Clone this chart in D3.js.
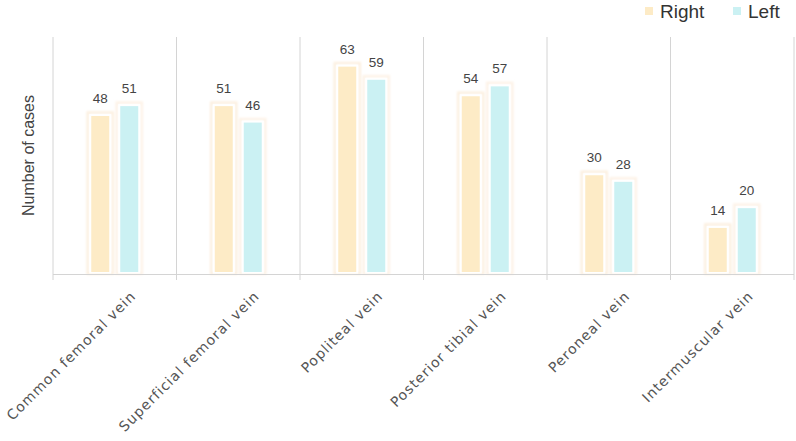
<!DOCTYPE html>
<html><head><meta charset="utf-8">
<script src="https://cdn.jsdelivr.net/npm/d3@7"></script>
<style>body{margin:0;background:#fff}svg{display:block}</style>
</head><body>
<script>
const categories = ["Common femoral vein","Superficial femoral vein","Popliteal vein","Posterior tibial vein","Peroneal vein","Intermuscular vein"];
const seriesNames = ["Right","Left"];
const rightValues = [48,51,63,54,30,14];
const leftValues = [51,46,59,57,28,20];
const yTicks = [0,72];

const W=796,H=441;
const svg=d3.select("body").append("svg").attr("width",W).attr("height",H);
const m={l:53,r:2,t:37,b:167};
const x=d3.scaleBand().domain(categories).range([m.l,W-m.r]).padding(0);
const y=d3.scaleLinear().domain(d3.extent(yTicks)).range([H-m.b,m.t]);
const colors={Right:"#fdebc6",Left:"#cbf1f3"};
const halo={Right:"#fcefdf",Left:"#fdf2e6"};

const defs=svg.append("defs");
defs.append("filter").attr("id","glow").attr("x","-50%").attr("y","-20%").attr("width","200%").attr("height","140%")
  .append("feGaussianBlur").attr("stdDeviation",1.2);

// vertical separators
svg.append("g").selectAll("line").data(d3.range(categories.length+1)).join("line")
  .attr("x1",i=>m.l+i*x.bandwidth()).attr("x2",i=>m.l+i*x.bandwidth())
  .attr("y1",m.t).attr("y2",y(0)+6).attr("stroke","#d4d4d4").attr("stroke-width",1);

const data=categories.map((c,i)=>({c,vals:[{s:"Right",v:rightValues[i]},{s:"Left",v:leftValues[i]}]}));
const bw=18, off=14.5;
const g=svg.append("g");
data.forEach(d=>{
  const cx=x(d.c)+x.bandwidth()/2;
  d.vals.forEach((e,j)=>{
    const bx=cx+(j===0?-off:off)-bw/2;
    g.append("rect").attr("x",bx-3.5).attr("y",y(e.v)-3.5).attr("width",bw+7).attr("height",y(0)-y(e.v)+3)
      .attr("fill","none").attr("stroke",halo[e.s]).attr("stroke-width",2.5).attr("filter","url(#glow)");
    g.append("rect").attr("x",bx-2).attr("y",y(e.v)-2).attr("width",bw+4).attr("height",y(0)-y(e.v)+1.5)
      .attr("fill","#fff");
    g.append("rect").attr("x",bx).attr("y",y(e.v)).attr("width",bw).attr("height",y(0)-y(e.v)-2)
      .attr("fill",colors[e.s]);
    g.append("text").attr("x",bx+bw/2).attr("y",y(e.v)-13).attr("text-anchor","middle")
      .attr("font-family","Liberation Sans, Arial, sans-serif").attr("font-size",13.5).attr("fill","#444").text(e.v);
  });
});

// baseline
svg.append("line").attr("x1",m.l).attr("x2",W-m.r).attr("y1",y(0)+0.5).attr("y2",y(0)+0.5).attr("stroke","#d4d4d4");

// x labels
svg.append("g").selectAll("text").data(categories).join("text")
  .attr("transform",d=>`translate(${x(d)+x.bandwidth()/2+22},${y(0)+23}) rotate(-45)`)
  .attr("text-anchor","end").attr("font-family","DejaVu Sans, sans-serif").attr("font-size",14)
  .attr("letter-spacing","1.05px").attr("fill","#555").text(d=>d);

// y title
svg.append("text").attr("transform",`translate(34,${(m.t+y(0))/2}) rotate(-90)`).attr("text-anchor","middle")
  .attr("font-family","Liberation Sans, Arial, sans-serif").attr("font-size",16).attr("fill","#444").text("Number of cases");

// legend
const lg=svg.append("g");
const lx=[645,733];
seriesNames.forEach((s,i)=>{
  lg.append("rect").attr("x",lx[i]).attr("y",7).attr("width",8).attr("height",8).attr("fill",colors[s]);
  lg.append("text").attr("x",lx[i]+15).attr("y",18).attr("font-family","Liberation Sans, Arial, sans-serif")
    .attr("font-size",19).attr("fill","#333").text(s);
});
</script>
</body></html>
